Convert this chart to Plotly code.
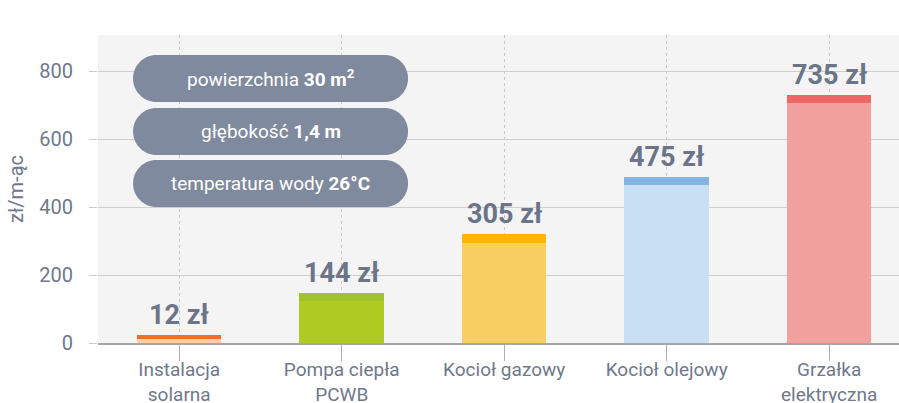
import plotly.graph_objects as go

categories = ["Instalacja<br>solarna", "Pompa ciepła<br>PCWB", "Kocioł gazowy",
              "Kocioł olejowy", "Grzałka<br>elektryczna"]
cost_labels = [12, 144, 305, 475, 735]          # zł / month (printed values)
bar_base = [11, 124, 294, 464, 706]             # lighter body of each bar
bar_cap = [12, 23, 26, 25, 24]                  # darker top stripe
base_colors = ["#fccfa9", "#afcb22", "#f9cf62", "#c9dff4", "#f2a19e"]
cap_colors = ["#ef7022", "#a0c22b", "#fdb605", "#84b3e4", "#ef6666"]
pill_texts = ["powierzchnia <b>30 m<sup>2</sup></b>",
              "głębokość <b>1,4 m</b>",
              "temperatura wody <b>26°C</b>"]
pill_y = [778, 622, 469]
y_ticks = [0, 200, 400, 600, 800]

TXT = "#6f788c"
FONT = "Roboto"
xs = list(range(len(categories)))

fig = go.Figure()
fig.add_trace(go.Bar(x=xs, y=bar_base, marker=dict(color=base_colors, line=dict(width=0)),
                     width=0.52, hoverinfo="skip"))
fig.add_trace(go.Bar(x=xs, y=bar_cap, marker=dict(color=cap_colors, line=dict(width=0)),
                     width=0.52, hoverinfo="skip"))

for i, v in enumerate(cost_labels):
    fig.add_annotation(x=i, y=bar_base[i] + bar_cap[i], text=f"<b>{v} zł</b>",
                       showarrow=False, yanchor="bottom", yshift=2,
                       font=dict(family=FONT, size=27, color="#6b7488"))

W, H = 137.5, 23.5
R = H
k = 0.5523 * R
a, b = -W + R, W - R
path = (f"M{a},{-H} L{b},{-H} C{b + k},{-H} {W},{-k} {W},0 "
        f"C{W},{k} {b + k},{H} {b},{H} L{a},{H} "
        f"C{a - k},{H} {-W},{k} {-W},0 C{-W},{-k} {a - k},{-H} {a},{-H} Z")
pill_x = 0.562
for t, yv in zip(pill_texts, pill_y):
    fig.add_shape(type="path", xref="x", yref="y", xsizemode="pixel", ysizemode="pixel",
                  xanchor=pill_x, yanchor=yv, path=path,
                  fillcolor="#7f8a9e", line=dict(width=0), layer="above")
    fig.add_annotation(x=pill_x, y=yv, text=t, showarrow=False,
                       font=dict(family=FONT, size=19, color="white"))

fig.update_layout(
    width=899, height=403, barmode="stack", showlegend=False,
    margin=dict(l=98, r=0, t=35, b=60, autoexpand=False),
    paper_bgcolor="white", plot_bgcolor="#f4f4f4",
    font=dict(family=FONT, color=TXT),
    xaxis=dict(tickmode="array", tickvals=xs, ticktext=categories,
               range=[-0.5, 4.43], tickson="boundaries", ticks="outside",
               ticklen=16, tickcolor="#b0b0b0", tickwidth=1, automargin=False,
               showgrid=True, gridcolor="#c8c8c8", griddash="dot", gridwidth=1,
               showline=True, linecolor="#a6a6a6", linewidth=2,
               ticklabelstandoff=-8,
               tickfont=dict(family=FONT, size=19, color=TXT)),
    yaxis=dict(range=[0, 906], tickvals=y_ticks, ticks="outside", ticklen=8,
               tickcolor="#cccccc", showgrid=True, gridcolor="#cfcfcf", gridwidth=1,
               zeroline=False, ticklabelstandoff=12, automargin=False,
               tickfont=dict(family=FONT, size=20, color=TXT),
               title=dict(text="zł/m-ąc", font=dict(family=FONT, size=20, color=TXT),
                          standoff=10)),
)

fig.write_html("out.html", config={"displayModeBar": False},
               post_script=("document.documentElement.style.overflow='hidden';"
                            "document.documentElement.style.background="
                            "'linear-gradient(to bottom, white 35px, #f4f4f4 35px, "
                            "#f4f4f4 342px, #a6a6a6 342px, #a6a6a6 344px, white 344px)';"
                            "document.body.style.margin='0';"
                            "document.body.style.overflow='hidden';"))
